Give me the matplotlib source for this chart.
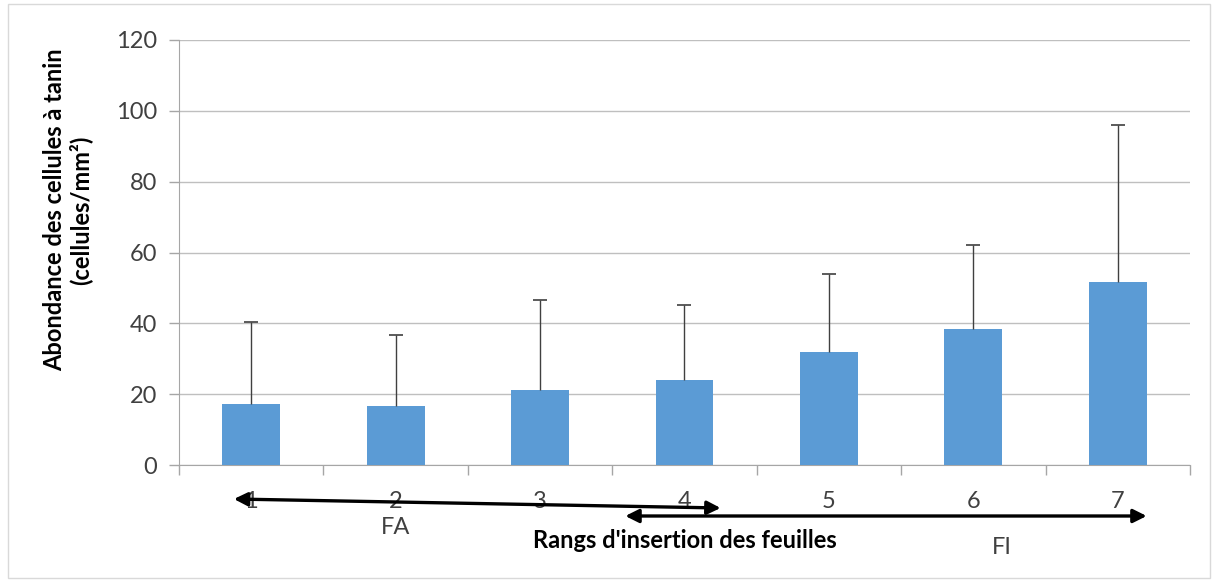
import matplotlib
matplotlib.use("Agg")
import matplotlib.pyplot as plt
from matplotlib.patches import Rectangle

plt.rcParams['font.family'] = ['Lato', 'DejaVu Sans']

categories = ["1", "2", "3", "4", "5", "6", "7"]
values = [17.2, 16.8, 21.1, 23.9, 32.0, 38.4, 51.7]
err_upper = [23.2, 19.8, 25.5, 21.3, 21.8, 23.7, 44.4]
yticks = [0, 20, 40, 60, 80, 100, 120]

fig = plt.figure(figsize=(12.18, 5.82), dpi=100)
ax = fig.add_axes([179/1218, 1-465/582, (1190-179)/1218, (465-40)/582])

x = list(range(len(categories)))
ax.bar(x, values, width=0.4, color="#5B9BD5", zorder=3)
ax.errorbar(x, values, yerr=[[0]*len(values), err_upper], fmt="none",
            ecolor="#404040", elinewidth=1, capsize=0, zorder=4)
tops = [v + e for v, e in zip(values, err_upper)]
ax.plot(x, tops, linestyle="none", marker="_", markersize=10,
        markeredgewidth=1.2, color="#404040", zorder=4)

ax.set_xlim(-0.5, len(categories) - 0.5)
ax.set_ylim(0, 120)
ax.set_yticks(yticks)
ax.set_yticklabels([str(t) for t in yticks], fontsize=17, color="#404040")
ax.set_xticks(x)
ax.set_xticklabels(categories, fontsize=17, color="#404040")
ax.set_xticks([i - 0.5 for i in range(len(categories) + 1)], minor=True)
ax.tick_params(axis="x", which="major", length=0, pad=19)
ax.tick_params(axis="x", which="minor", length=7, color="#A6A6A6", width=1)
ax.tick_params(axis="y", length=7, color="#A6A6A6", width=1, pad=9)

ax.grid(axis="y", color="#BFBFBF", linewidth=1, zorder=0)
for s in ["top", "right"]:
    ax.spines[s].set_visible(False)
ax.spines["left"].set_color("#A6A6A6")
ax.spines["bottom"].set_color("#A6A6A6")

trans = ax.get_xaxis_transform()

def axy(py):
    # pixel y -> axes fraction
    return (465 - py) / 425

arrowprops = dict(arrowstyle="<|-|>", color="black", lw=2.4,
                  mutation_scale=20, shrinkA=0, shrinkB=0)
ax.annotate("", xy=(3.25, axy(508)), xytext=(-0.12, axy(499)),
            xycoords=trans, textcoords=trans, arrowprops=arrowprops,
            annotation_clip=False)
ax.annotate("", xy=(6.2, axy(516)), xytext=(2.59, axy(516)),
            xycoords=trans, textcoords=trans, arrowprops=arrowprops,
            annotation_clip=False)

ax.text(1.0, axy(527), "FA", transform=trans, ha="center", va="center",
        fontsize=17, color="#404040")
ax.text(5.2, axy(547), "FI", transform=trans, ha="center", va="center",
        fontsize=17, color="#404040")
ax.text(3.0, axy(540), "Rangs d'insertion des feuilles", transform=trans,
        ha="center", va="center", fontsize=17, fontweight="bold", color="black")

fig.text(68/1218, 1-210/582, "Abondance des cellules à tanin\n(cellules/mm²)",
         rotation=90, ha="center", va="center", fontsize=17,
         fontweight="bold", color="black", linespacing=1.1)

fig.patches.append(Rectangle((8/1218, 4/582), (1210-8)/1218, (578-4)/582,
                             transform=fig.transFigure, fill=False,
                             edgecolor="#D9D9D9", linewidth=1))

fig.savefig("out.png", dpi=100)
